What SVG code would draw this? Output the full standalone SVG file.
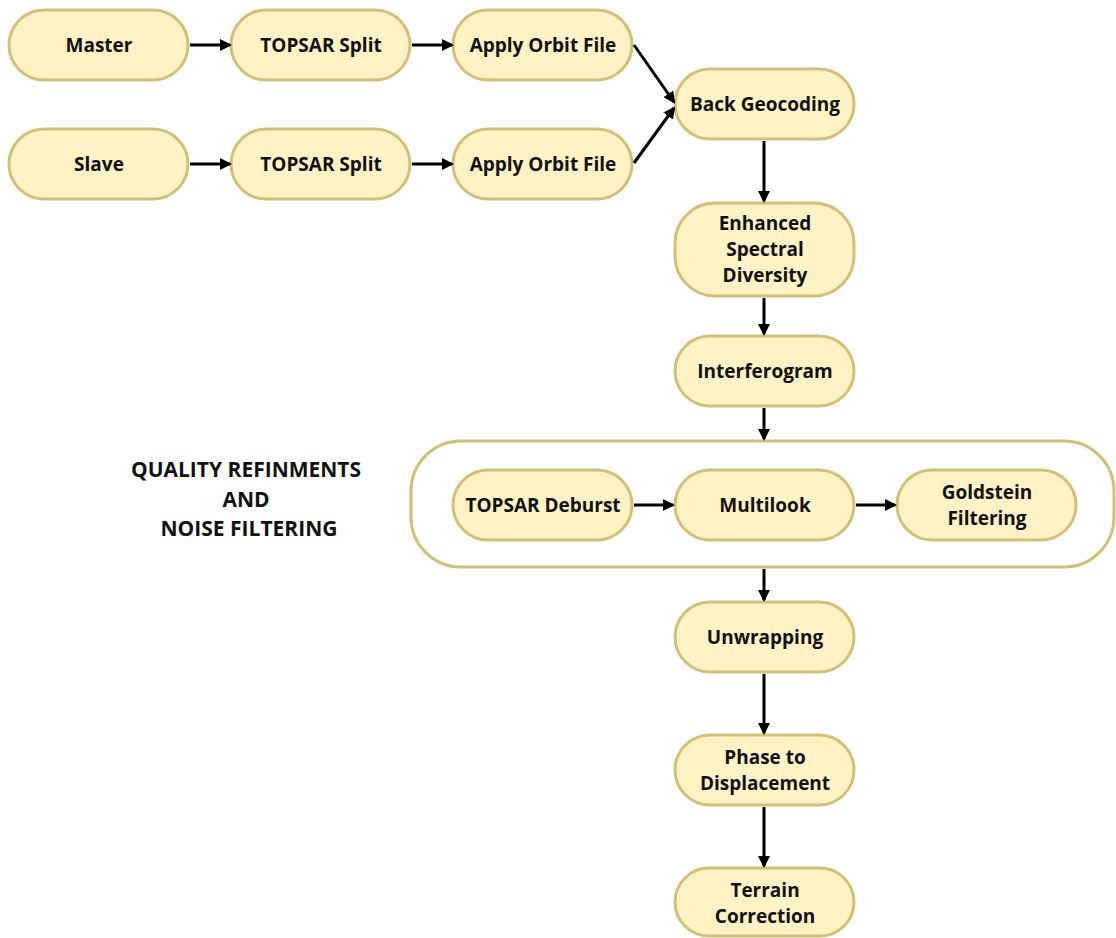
<svg xmlns="http://www.w3.org/2000/svg" width="1116" height="938" viewBox="0 0 1116 938">
<style>
.n rect{fill:#fff2c4;stroke:#d2bf78;stroke-width:3}
.g rect{fill:#ffffff;stroke:#d2bf78;stroke-width:3}
text{font-family:"Open Sans","Liberation Sans",sans-serif;font-weight:bold;font-size:19px;fill:#111;text-anchor:middle;dominant-baseline:central}
.lbl{font-size:21px}
#edges line{stroke:#000;stroke-width:3;marker-end:url(#ah)}
</style>
<defs>
<marker id="ah" markerWidth="12" markerHeight="12" refX="10" refY="6" orient="auto" markerUnits="userSpaceOnUse">
<path d="M0,0 L12,6 L0,12 z" fill="#000"/>
</marker>
</defs>
<rect width="1116" height="938" fill="#ffffff"/>
<g id="group" class="g">
<rect x="411" y="441" width="703" height="126" rx="50"/>
<text class="lbl" x="246" y="469">QUALITY REFINMENTS</text>
<text class="lbl" x="246" y="499">AND</text>
<text class="lbl" x="249" y="528">NOISE FILTERING</text>
</g>
<g id="master" class="n"><rect x="9" y="10" width="179" height="70" rx="35"/><text x="99" y="45">Master</text></g>
<g id="split1" class="n"><rect x="231" y="10" width="179" height="70" rx="35"/><text x="321" y="45">TOPSAR Split</text></g>
<g id="orbit1" class="n"><rect x="453" y="10" width="179" height="70" rx="35"/><text x="543" y="45">Apply Orbit File</text></g>
<g id="slave" class="n"><rect x="9" y="129" width="179" height="70" rx="35"/><text x="99" y="164">Slave</text></g>
<g id="split2" class="n"><rect x="231" y="129" width="179" height="70" rx="35"/><text x="321" y="164">TOPSAR Split</text></g>
<g id="orbit2" class="n"><rect x="453" y="129" width="179" height="70" rx="35"/><text x="543" y="164">Apply Orbit File</text></g>
<g id="backgeo" class="n"><rect x="675" y="69" width="179" height="70" rx="35"/><text x="765" y="104">Back Geocoding</text></g>
<g id="esd" class="n"><rect x="675" y="203" width="179" height="93" rx="40"/><text x="765" y="223">Enhanced</text><text x="765" y="249">Spectral</text><text x="765" y="275">Diversity</text></g>
<g id="interf" class="n"><rect x="675" y="336" width="179" height="70" rx="35"/><text x="765" y="371">Interferogram</text></g>
<g id="deburst" class="n"><rect x="453" y="470" width="179" height="70" rx="35"/><text x="543" y="505">TOPSAR Deburst</text></g>
<g id="multilook" class="n"><rect x="675" y="470" width="179" height="70" rx="35"/><text x="765" y="505">Multilook</text></g>
<g id="goldstein" class="n"><rect x="897" y="470" width="179" height="70" rx="35"/><text x="987" y="492">Goldstein</text><text x="987" y="518">Filtering</text></g>
<g id="unwrap" class="n"><rect x="675" y="602" width="179" height="70" rx="35"/><text x="765" y="637">Unwrapping</text></g>
<g id="phase" class="n"><rect x="675" y="735" width="179" height="70" rx="35"/><text x="765" y="757">Phase to</text><text x="765" y="783">Displacement</text></g>
<g id="terrain" class="n"><rect x="675" y="868" width="179" height="68" rx="34"/><text x="765" y="890">Terrain</text><text x="765" y="916">Correction</text></g>
<g id="edges">
<line x1="190" y1="45" x2="230" y2="45"/>
<line x1="412" y1="45" x2="452" y2="45"/>
<line x1="190" y1="164" x2="230" y2="164"/>
<line x1="412" y1="164" x2="452" y2="164"/>
<line x1="634" y1="45" x2="674" y2="102"/>
<line x1="634" y1="163" x2="674" y2="108"/>
<line x1="764" y1="141" x2="764" y2="201"/>
<line x1="764" y1="298" x2="764" y2="334"/>
<line x1="764" y1="408" x2="764" y2="439"/>
<line x1="634" y1="505" x2="673" y2="505"/>
<line x1="856" y1="505" x2="895" y2="505"/>
<line x1="764" y1="569" x2="764" y2="600"/>
<line x1="764" y1="674" x2="764" y2="733"/>
<line x1="764" y1="807" x2="764" y2="866"/>
</g>
</svg>
